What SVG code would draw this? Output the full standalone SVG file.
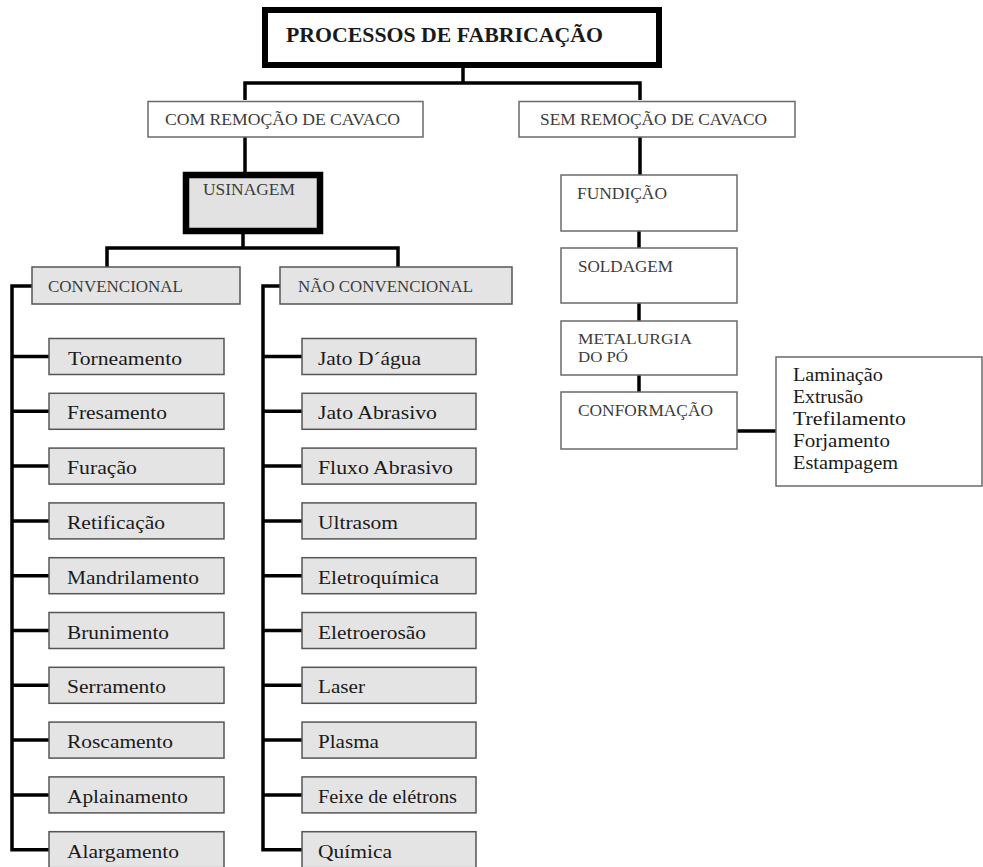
<svg xmlns="http://www.w3.org/2000/svg" width="983" height="867" viewBox="0 0 983 867">
<style>
text { font-family: "Liberation Serif", "Times New Roman", serif; fill: #1a1a1a; }
.title { font-size: 21px; font-weight: bold; }
.cap { font-size: 17.5px; fill: #3c3c3c; }
.cap2 { font-size: 15px; fill: #3c3c3c; }
.item { font-size: 18px; }
.side { font-size: 18px; }
.thick { fill: none; stroke: #000; stroke-width: 6; }
.thickg { fill: #e2e2e2; stroke: #000; stroke-width: 6.5; }
.white { fill: #fff; stroke: #6a6a6a; stroke-width: 1.5; }
.gray { fill: #e4e4e4; stroke: #555; stroke-width: 1.5; }
.conn { fill: none; stroke: #000; stroke-width: 3.5; stroke-linejoin: miter; }
</style>
<rect width="983" height="867" fill="#fff"/>
<g id="connectors">
  <path class="conn" d="M463,68 V83 M245,100 V83 H640 V100"/>
  <path class="conn" d="M245,137 V173"/>
  <path class="conn" d="M640,137 V175 M639,231 V248 M639,303 V321 M639,375 V392"/>
  <path class="conn" d="M737,431 H776"/>
  <path class="conn" d="M243,234 V248 M107,267 V248 H398 V267"/>
  <path class="conn" d="M32,286 H12 V849.7 H49"/>
  <path class="conn" d="M280,286 H263 V849.7 H302"/>
  <path class="conn" d="M12,356.5 H49 M12,411.3 H49 M12,466.1 H49 M12,520.9 H49 M12,575.7 H49 M12,630.5 H49 M12,685.3 H49 M12,740.1 H49 M12,794.9 H49"/>
  <path class="conn" d="M263,356.5 H302 M263,411.3 H302 M263,466.1 H302 M263,520.9 H302 M263,575.7 H302 M263,630.5 H302 M263,685.3 H302 M263,740.1 H302 M263,794.9 H302"/>
</g>
<g id="processos">
  <rect class="thick" x="265" y="10" width="394" height="55"/>
  <text class="title" x="286" y="42" textLength="317" lengthAdjust="spacingAndGlyphs">PROCESSOS DE FABRICAÇÃO</text>
</g>
<g id="com-remocao">
  <rect class="white" x="148" y="101.5" width="275" height="35.5"/>
  <text class="cap" x="165" y="125" textLength="235" lengthAdjust="spacingAndGlyphs">COM REMOÇÃO DE CAVACO</text>
</g>
<g id="sem-remocao">
  <rect class="white" x="519" y="101.5" width="276" height="35.5"/>
  <text class="cap" x="540" y="125" textLength="227" lengthAdjust="spacingAndGlyphs">SEM REMOÇÃO DE CAVACO</text>
</g>
<g id="usinagem">
  <rect class="thickg" x="186" y="175" width="134" height="56"/>
  <text class="cap" x="203" y="195" textLength="92" lengthAdjust="spacingAndGlyphs">USINAGEM</text>
</g>
<g id="convencional">
  <rect class="gray" x="32" y="267" width="208" height="37"/>
  <text class="cap" x="48" y="292" textLength="135" lengthAdjust="spacingAndGlyphs">CONVENCIONAL</text>
</g>
<g id="nao-convencional">
  <rect class="gray" x="280" y="267" width="232" height="37"/>
  <text class="cap" x="298" y="292" textLength="175" lengthAdjust="spacingAndGlyphs">NÃO CONVENCIONAL</text>
</g>
<g id="torneamento"><rect class="gray" x="49" y="338.5" width="175" height="36"/><text class="item" x="68" y="364.5" textLength="114" lengthAdjust="spacingAndGlyphs">Torneamento</text></g>
<g id="fresamento"><rect class="gray" x="49" y="393.3" width="175" height="36"/><text class="item" x="67" y="419.3" textLength="100" lengthAdjust="spacingAndGlyphs">Fresamento</text></g>
<g id="furacao"><rect class="gray" x="49" y="448.1" width="175" height="36"/><text class="item" x="67" y="474.1" textLength="70" lengthAdjust="spacingAndGlyphs">Furação</text></g>
<g id="retificacao"><rect class="gray" x="49" y="502.9" width="175" height="36"/><text class="item" x="67" y="528.9" textLength="98" lengthAdjust="spacingAndGlyphs">Retificação</text></g>
<g id="mandrilamento"><rect class="gray" x="49" y="557.7" width="175" height="36"/><text class="item" x="67" y="583.7" textLength="132" lengthAdjust="spacingAndGlyphs">Mandrilamento</text></g>
<g id="brunimento"><rect class="gray" x="49" y="612.5" width="175" height="36"/><text class="item" x="67" y="638.5" textLength="102" lengthAdjust="spacingAndGlyphs">Brunimento</text></g>
<g id="serramento"><rect class="gray" x="49" y="667.3" width="175" height="36"/><text class="item" x="67" y="693.3" textLength="99" lengthAdjust="spacingAndGlyphs">Serramento</text></g>
<g id="roscamento"><rect class="gray" x="49" y="722.1" width="175" height="36"/><text class="item" x="67" y="748.1" textLength="106" lengthAdjust="spacingAndGlyphs">Roscamento</text></g>
<g id="aplainamento"><rect class="gray" x="49" y="776.9" width="175" height="36"/><text class="item" x="67" y="802.9" textLength="121" lengthAdjust="spacingAndGlyphs">Aplainamento</text></g>
<g id="alargamento"><rect class="gray" x="49" y="831.7" width="175" height="36"/><text class="item" x="67" y="857.7" textLength="112" lengthAdjust="spacingAndGlyphs">Alargamento</text></g>
<g id="jato-dagua"><rect class="gray" x="302" y="338.5" width="174" height="36"/><text class="item" x="318" y="364.5" textLength="103" lengthAdjust="spacingAndGlyphs">Jato D´água</text></g>
<g id="jato-abrasivo"><rect class="gray" x="302" y="393.3" width="174" height="36"/><text class="item" x="318" y="419.3" textLength="119" lengthAdjust="spacingAndGlyphs">Jato Abrasivo</text></g>
<g id="fluxo-abrasivo"><rect class="gray" x="302" y="448.1" width="174" height="36"/><text class="item" x="318" y="474.1" textLength="135" lengthAdjust="spacingAndGlyphs">Fluxo Abrasivo</text></g>
<g id="ultrasom"><rect class="gray" x="302" y="502.9" width="174" height="36"/><text class="item" x="318" y="528.9" textLength="80" lengthAdjust="spacingAndGlyphs">Ultrasom</text></g>
<g id="eletroquimica"><rect class="gray" x="302" y="557.7" width="174" height="36"/><text class="item" x="318" y="583.7" textLength="121" lengthAdjust="spacingAndGlyphs">Eletroquímica</text></g>
<g id="eletroerosao"><rect class="gray" x="302" y="612.5" width="174" height="36"/><text class="item" x="318" y="638.5" textLength="108" lengthAdjust="spacingAndGlyphs">Eletroerosão</text></g>
<g id="laser"><rect class="gray" x="302" y="667.3" width="174" height="36"/><text class="item" x="318" y="693.3" textLength="47" lengthAdjust="spacingAndGlyphs">Laser</text></g>
<g id="plasma"><rect class="gray" x="302" y="722.1" width="174" height="36"/><text class="item" x="318" y="748.1" textLength="61" lengthAdjust="spacingAndGlyphs">Plasma</text></g>
<g id="feixe"><rect class="gray" x="302" y="776.9" width="174" height="36"/><text class="item" x="318" y="802.9" textLength="139" lengthAdjust="spacingAndGlyphs">Feixe de elétrons</text></g>
<g id="quimica"><rect class="gray" x="302" y="831.7" width="174" height="36"/><text class="item" x="318" y="857.7" textLength="74" lengthAdjust="spacingAndGlyphs">Química</text></g>
<g id="fundicao">
  <rect class="white" x="561" y="175" width="176" height="56"/>
  <text class="cap" x="577" y="199" textLength="90" lengthAdjust="spacingAndGlyphs">FUNDIÇÃO</text>
</g>
<g id="soldagem">
  <rect class="white" x="561" y="248" width="176" height="55"/>
  <text class="cap" x="578" y="272" textLength="95" lengthAdjust="spacingAndGlyphs">SOLDAGEM</text>
</g>
<g id="metalurgia">
  <rect class="white" x="561" y="321" width="176" height="54"/>
  <text class="cap2" x="578" y="344" textLength="114" lengthAdjust="spacingAndGlyphs">METALURGIA</text>
  <text class="cap2" x="578" y="362" textLength="50" lengthAdjust="spacingAndGlyphs">DO PÓ</text>
</g>
<g id="conformacao">
  <rect class="white" x="561" y="392" width="176" height="57"/>
  <text class="cap" x="578" y="416" textLength="135" lengthAdjust="spacingAndGlyphs">CONFORMAÇÃO</text>
</g>
<g id="conformacao-lista">
  <rect class="white" x="776" y="357" width="206" height="129"/>
  <text class="side" x="793" y="381" textLength="90" lengthAdjust="spacingAndGlyphs">Laminação</text>
  <text class="side" x="793" y="403" textLength="70" lengthAdjust="spacingAndGlyphs">Extrusão</text>
  <text class="side" x="793" y="425" textLength="113" lengthAdjust="spacingAndGlyphs">Trefilamento</text>
  <text class="side" x="793" y="447" textLength="97" lengthAdjust="spacingAndGlyphs">Forjamento</text>
  <text class="side" x="793" y="469" textLength="105" lengthAdjust="spacingAndGlyphs">Estampagem</text>
</g>
</svg>
